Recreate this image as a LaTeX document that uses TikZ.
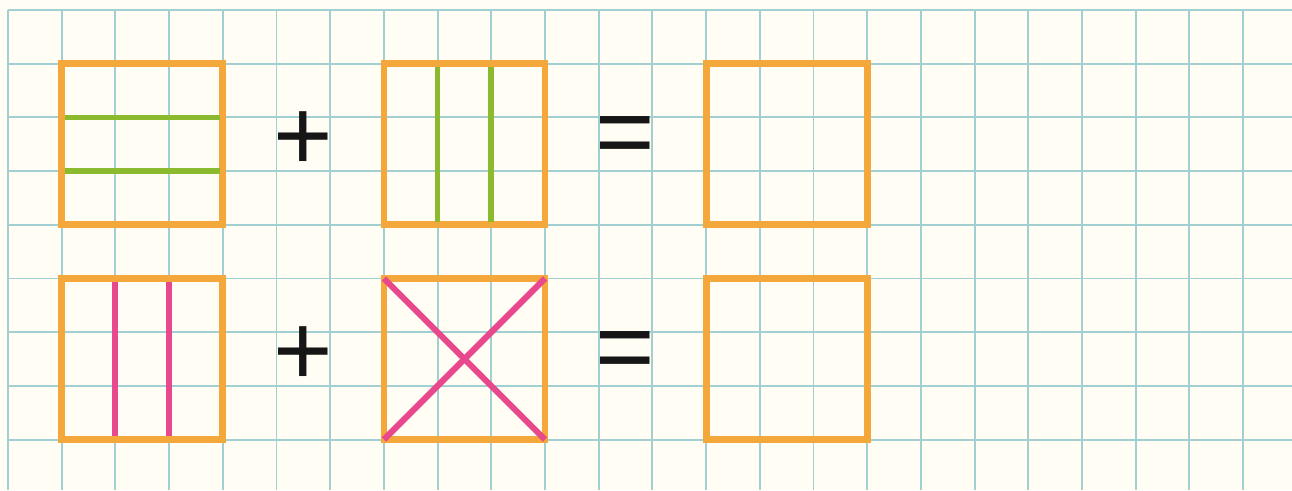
\documentclass[tikz,border=0pt]{standalone}
\usepackage{fontspec}
\setmainfont{Liberation Sans}
\usepackage{xcolor}
\usetikzlibrary{calc,backgrounds}
\definecolor{pgPaper}{HTML}{FFFDF4}
\definecolor{pgGrid}{HTML}{A2CFD2}
\definecolor{pgOrange}{HTML}{F4A73A}
\definecolor{pgGreen}{HTML}{8CBA2F}
\definecolor{pgPink}{HTML}{E8488C}
\definecolor{pgInk}{HTML}{161616}
\tikzset{
  gridline/.style={draw=pgGrid,line width=1pt},
  frame/.style={rectangle,draw=pgOrange,line width=3.6pt,minimum size=3cm,
                inner sep=0pt,outer sep=0pt},
  gstick/.style={draw=pgGreen,line width=3pt,shorten <=1.7pt,shorten >=1.7pt},
  pstick/.style={draw=pgPink,line width=3.2pt},
  sign/.style={text=pgInk,font=\fontsize{54}{54}\selectfont,inner sep=0pt},
}

\begin{document}
\begin{tikzpicture}
        \useasboundingbox[fill=pgPaper] (-0.149,0.186) rectangle (23.91,-8.94);
        \draw[gridline] (0,-8.94) grid (23.91,0);
        % first row
        \node[frame] (a1) at (2.5,-2.5) {};
        \node[sign] (p1) at (5.5,-2.45) {+};
        \node[frame] (b1) at (8.5,-2.5) {};
        \node[sign] (e1) at (11.5,-2.45) {=};
        \node[frame] (c1) at (14.5,-2.5) {};
        \draw[gstick] ($(a1.north west)!1/3!(a1.south west)$) -- ($(a1.north east)!1/3!(a1.south east)$);
        \draw[gstick] ($(a1.north west)!2/3!(a1.south west)$) -- ($(a1.north east)!2/3!(a1.south east)$);
        \draw[gstick] ($(b1.north west)!1/3!(b1.north east)$) -- ($(b1.south west)!1/3!(b1.south east)$);
        \draw[gstick] ($(b1.north west)!2/3!(b1.north east)$) -- ($(b1.south west)!2/3!(b1.south east)$);
        % second row
        \node[frame] (a2) at (2.5,-6.5) {};
        \node[sign] (p2) at (5.5,-6.45) {+};
        \node[frame] (b2) at (8.5,-6.5) {};
        \node[sign] (e2) at (11.5,-6.45) {=};
        \node[frame] (c2) at (14.5,-6.5) {};
        \draw[pstick,shorten <=1.7pt,shorten >=1.7pt] ($(a2.north west)!1/3!(a2.north east)$) -- ($(a2.south west)!1/3!(a2.south east)$);
        \draw[pstick,shorten <=1.7pt,shorten >=1.7pt] ($(a2.north west)!2/3!(a2.north east)$) -- ($(a2.south west)!2/3!(a2.south east)$);
        \draw[pstick] (b2.north west) -- (b2.south east);
        \draw[pstick] (b2.south west) -- (b2.north east);
      \end{tikzpicture}
\end{document}
